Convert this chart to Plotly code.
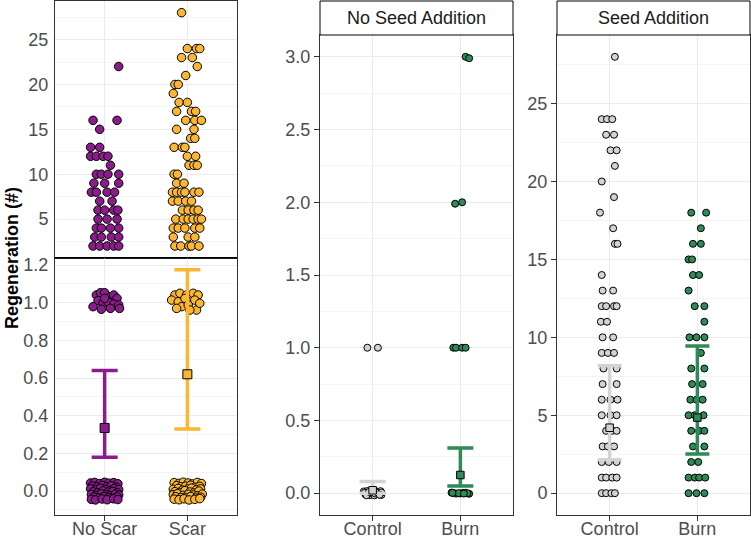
import numpy as np
import plotly.graph_objects as go

# ---- data -------------------------------------------------------------
scar_groups = ["No Scar", "Scar"]
fire_groups = ["Control", "Burn"]
panel_titles = ["No Seed Addition", "Seed Addition"]

# panel 1, upper part (counts > 1), values and jitter offsets
noscar_hi_y = [22, 16, 16, 15, 13, 13, 12, 12, 12, 12, 11, 10, 10, 10, 10, 9, 9, 9,
               8, 8, 8, 8, 7, 7, 6, 6, 6, 6, 5, 5, 5, 4, 4, 4, 4, 3, 3, 3, 3,
               2, 2, 2, 2, 2]
noscar_hi_dx = [0.17, -0.14, 0.15, -0.06, -0.17, -0.06, -0.17, -0.10, -0.02, 0.04, 0.07,
                -0.10, -0.04, 0.04, 0.17, -0.13, 0.00, 0.17, -0.16, -0.10, 0.03, 0.12,
                -0.06, 0.09, -0.08, 0.00, 0.11, 0.16, -0.08, 0.03, 0.15, -0.10, -0.04,
                0.07, 0.17, -0.12, -0.04, 0.08, 0.17, -0.14, -0.06, 0.03, 0.11, 0.17]
scar_hi_y = [28, 24, 24, 24, 23, 23, 22, 21, 20, 20, 19, 18, 18, 17, 17, 17, 16, 16, 16,
             15, 15, 14, 14, 13, 13, 13, 12, 12, 11, 11, 11, 10, 10, 9, 9,
             8, 8, 8, 8, 8, 8, 7, 7, 7, 7, 6, 6, 6, 6, 5, 5, 5, 5, 5, 5,
             4, 4, 4, 4, 4, 3, 3, 3, 2, 2, 2, 2, 2]
scar_hi_dx = [-0.07, 0.00, 0.11, 0.15, -0.07, 0.06, 0.12, -0.02, -0.15, -0.11, -0.17,
              -0.10, 0.00, -0.13, 0.05, 0.10, -0.02, 0.09, 0.17, -0.13, 0.08, 0.04, 0.09,
              -0.16, -0.06, -0.03, 0.00, 0.10, 0.02, 0.08, 0.12, -0.16, -0.12, -0.13, -0.04,
              -0.18, -0.13, -0.07, -0.03, 0.08, 0.14, -0.18, -0.11, -0.02, 0.05,
              -0.06, 0.01, 0.08, 0.13, -0.14, -0.05, 0.01, 0.07, 0.13, 0.17,
              -0.17, -0.11, -0.03, 0.09, 0.15, -0.17, 0.01, 0.09, -0.15, -0.08, 0.02, 0.05, 0.14]

# panel 1, lower part (presence 0/1, jittered)
noscar_lo_y = [1.041, 1.053, 1.053, 1.032, 1.041, 1.023, 1.011, 0.997, 1.005, 0.993, 0.988,
               0.979, 0.965, 0.970, 0.970, 1.023,
               0.043, 0.046, 0.040, 0.047, 0.042, 0.045, 0.039,
               0.027, 0.022, 0.030, 0.024, 0.028, 0.021,
               0.012, 0.006, 0.015, 0.009, 0.004, 0.013, 0.008,
               -0.004, -0.009, 0.001, -0.006, -0.002, -0.008,
               -0.018, -0.022, -0.015, -0.020, -0.024, -0.016, -0.021,
               -0.032, -0.036, -0.030, -0.034, -0.038, -0.031,
               -0.044, -0.047, -0.042, -0.046, -0.041, -0.045]
noscar_lo_dx = [-0.10, -0.05, 0.00, 0.07, 0.11, 0.15, -0.08, -0.02, 0.04, 0.11, 0.17,
                -0.14, -0.04, 0.07, 0.18, 0.00,
                -0.17, -0.12, -0.06, 0.00, 0.05, 0.11, 0.16,
                -0.15, -0.09, -0.03, 0.03, 0.08, 0.14,
                -0.17, -0.11, -0.05, 0.01, 0.07, 0.12, 0.17,
                -0.14, -0.08, -0.02, 0.04, 0.10, 0.15,
                -0.16, -0.10, -0.04, 0.02, 0.06, 0.13, 0.17,
                -0.13, -0.07, -0.01, 0.05, 0.09, 0.15,
                -0.16, -0.11, -0.03, 0.03, 0.11, 0.16]
scar_lo_y = [1.041, 1.050, 1.041, 1.050, 1.041, 1.014, 1.005, 1.023, 1.014, 0.979, 0.988,
             0.961, 0.970, 0.961, 0.997,
             0.045, 0.041, 0.047, 0.043, 0.038, 0.046, 0.040,
             0.029, 0.023, 0.026, 0.031, 0.020, 0.025,
             0.010, 0.014, 0.005, 0.011, 0.016, 0.007, 0.012,
             -0.003, -0.007, 0.002, -0.005, -0.010, 0.000,
             -0.019, -0.014, -0.023, -0.017, -0.021, -0.025, -0.016,
             -0.030, -0.035, -0.033, -0.029, -0.037, -0.032,
             -0.043, -0.046, -0.041, -0.047, -0.044, -0.040]
scar_lo_dx = [-0.15, -0.09, -0.01, 0.07, 0.13, -0.19, -0.11, -0.03, 0.09, -0.07, 0.01,
              0.11, -0.13, 0.03, 0.15,
              -0.16, -0.10, -0.05, 0.01, 0.06, 0.12, 0.17,
              -0.13, -0.08, -0.02, 0.04, 0.09, 0.15,
              -0.17, -0.11, -0.06, 0.00, 0.05, 0.11, 0.16,
              -0.15, -0.09, -0.03, 0.03, 0.08, 0.14,
              -0.17, -0.12, -0.05, 0.01, 0.07, 0.12, 0.18,
              -0.14, -0.08, -0.02, 0.04, 0.10, 0.16,
              -0.16, -0.10, -0.04, 0.02, 0.09, 0.15]
scar_mean = [0.335, 0.62]
scar_lower = [0.18, 0.33]
scar_upper = [0.64, 1.175]

# panel 2: no seed addition
nsa_ctrl_y = [1.0, 1.0, 0.012, -0.010, 0.015, -0.013, 0.008, -0.015, 0.011, -0.008, 0.014,
              -0.012, 0.003, -0.004, 0.006, -0.002, 0.001, 0.004, -0.014, 0.013, -0.011, 0.009]
nsa_ctrl_dx = [-0.06, 0.06, -0.10, -0.08, -0.06, -0.03, 0.00, 0.02, 0.05, 0.07, 0.09,
               0.10, -0.09, -0.05, -0.01, 0.03, 0.06, 0.10, -0.07, 0.00, 0.08, -0.04]
nsa_burn_y = [3.0, 2.99, 1.99, 2.0, 1.0, 1.0, 1.0, 1.0,
              0.004, -0.003, 0.002, -0.004, 0.001, -0.002, 0.003, 0.000, -0.001, 0.002, -0.003]
nsa_burn_dx = [0.06, 0.10, -0.06, 0.02, -0.08, -0.05, 0.02, 0.06,
               -0.10, -0.05, 0.03, 0.10, -0.08, 0.00, 0.06, -0.02, 0.08, -0.09, 0.04]
nsa_mean = [0.02, 0.125]
nsa_lower = [0.0, 0.05]
nsa_upper = [0.08, 0.31]

# panel 3: seed addition
sa_ctrl_y = [28, 24, 24, 24, 23, 23, 22, 22, 21, 20, 19, 18, 17, 16, 16, 14, 13, 13,
             12, 12, 12, 12, 11, 11, 10, 10, 9, 9, 9, 8, 8, 7, 7, 6, 6, 6, 5, 5, 5,
             4, 4, 4, 3, 3, 3, 2, 2, 2, 1, 1, 1, 1, 0, 0, 0, 0]
sa_ctrl_dx = [0.06, -0.09, -0.03, 0.03, -0.04, 0.05, 0.01, 0.08, 0.06, -0.09, 0.05, -0.11,
              0.04, 0.06, 0.09, -0.09, -0.08, 0.04, -0.09, -0.04, 0.05, 0.08, -0.10, -0.03,
              -0.08, 0.04, -0.09, -0.02, 0.05, -0.07, 0.08, -0.08, 0.08, -0.09, 0.01, 0.09,
              -0.09, 0.01, 0.08, -0.04, 0.03, 0.08, -0.08, -0.02, 0.05, -0.09, -0.01, 0.08,
              -0.09, -0.04, 0.03, 0.08, -0.09, -0.04, 0.02, 0.06]
sa_burn_y = [18, 18, 17, 16, 16, 15, 15, 14, 14, 13, 12, 12, 11, 10, 10, 10, 9, 8, 8,
             7, 7, 6, 6, 6, 5, 5, 5, 4, 4, 4, 3, 3, 2, 2, 1, 1, 1, 1, 0, 0, 0]
sa_burn_dx = [-0.07, 0.10, 0.04, -0.05, 0.04, -0.10, -0.06, -0.05, 0.02, -0.10, -0.03, 0.08,
              0.08, -0.09, -0.01, 0.08, 0.04, -0.07, 0.08, -0.06, 0.06, -0.08, -0.01, 0.06,
              -0.10, -0.03, 0.07, -0.07, 0.02, 0.08, -0.05, 0.08, -0.07, 0.01,
              -0.10, -0.03, 0.02, 0.09, -0.10, -0.01, 0.08]
sa_mean = [4.2, 4.85]
sa_lower = [2.15, 2.52]
sa_upper = [8.17, 9.45]

PURPLE = "#8B1C8B"
ORANGE = "#FBB632"
GREEN = "#2E8B57"
GREY = "#D3D3D3"
FONT = "Liberation Sans, Arial, sans-serif"

W, H = 751, 540


def px_x(a, b):
    return [a / W, b / W]


def px_y(top, bottom):
    return [1 - bottom / H, 1 - top / H]


fig = go.Figure()


def points(x0, dx, y, color, size, ax):
    fig.add_trace(go.Scatter(
        x=x0 + np.array(dx), y=y, mode="markers", xaxis="x" + ax, yaxis="y" + ax,
        marker=dict(size=size, color=color, line=dict(color="black", width=1)),
        hoverinfo="y", showlegend=False))


def errbar(xs, mean, lo, hi, colors, size, cap, ax):
    for x, m, l, h, c in zip(xs, mean, lo, hi, colors):
        fig.add_trace(go.Scatter(
            x=[x], y=[m], mode="markers", xaxis="x" + ax, yaxis="y" + ax,
            marker=dict(symbol="square", size=size, color=c, line=dict(color="black", width=1)),
            error_y=dict(type="data", symmetric=False, array=[h - m], arrayminus=[m - l],
                         color=c, thickness=3.5, width=cap),
            showlegend=False))


# panel 1 upper
points(1, noscar_hi_dx, noscar_hi_y, PURPLE, 8.5, "")
points(2, scar_hi_dx, scar_hi_y, ORANGE, 8.5, "")
# panel 1 lower
points(1, noscar_lo_dx, noscar_lo_y, PURPLE, 8.5, "2")
points(2, scar_lo_dx, scar_lo_y, ORANGE, 8.5, "2")
errbar([1, 2], scar_mean, scar_lower, scar_upper, [PURPLE, ORANGE], 9, 13, "2")
# panel 2
points(1, nsa_ctrl_dx, nsa_ctrl_y, GREY, 7, "3")
points(2, nsa_burn_dx, nsa_burn_y, GREEN, 7, "3")
errbar([1, 2], nsa_mean, nsa_lower, nsa_upper, [GREY, GREEN], 7.5, 13, "3")
# panel 3
points(1, sa_ctrl_dx, sa_ctrl_y, GREY, 7, "4")
points(2, sa_burn_dx, sa_burn_y, GREEN, 7, "4")
errbar([1, 2], sa_mean, sa_lower, sa_upper, [GREY, GREEN], 7.5, 12, "4")

tickfont = dict(family=FONT, size=18, color="#4D4D4D")
base = dict(showline=True, linecolor="#333333", linewidth=1, mirror=True, zeroline=False,
            showgrid=True, gridcolor="#EBEBEB", gridwidth=1.1, tickfont=tickfont,
            tickcolor="#333333", fixedrange=True)


def xax(dom, anchor, labels):
    d = dict(base, domain=dom, anchor=anchor, range=[0.4, 2.6], tickvals=[1, 2])
    if labels is None:
        d.update(showticklabels=False, ticks="")
    else:
        d.update(ticktext=labels, ticks="outside", ticklen=5, ticklabelstandoff=-8)
    return d


def yax(dom, anchor, rng, ticks, minor, fmt, marks=True):
    d = dict(base, domain=dom, anchor=anchor, range=rng, tickvals=ticks,
             ticktext=[fmt.format(t) for t in ticks],
             minor=dict(showgrid=True, gridcolor="#F4F4F4", gridwidth=1, dtick=minor, tick0=0))
    if marks:
        d.update(ticks="outside", ticklen=5)
    else:
        d.update(ticks="outside", ticklen=2, tickcolor="rgba(0,0,0,0)")
    return d


p1x = px_x(55, 237)
p2x = px_x(320, 513)
p3x = px_x(557, 750)
fig.update_layout(
    xaxis=xax(p1x, "y", None),
    yaxis=yax(px_y(1, 257.7), "x", [0.7, 29.3], [5, 10, 15, 20, 25], 2.5, "{:g}", False),
    xaxis2=xax(p1x, "y2", scar_groups),
    yaxis2=yax(px_y(257.7, 515), "x2", [-0.127, 1.239], [0, 0.2, 0.4, 0.6, 0.8, 1.0, 1.2],
               0.1, "{:.1f}", False),
    xaxis3=xax(p2x, "y3", fire_groups),
    yaxis3=yax(px_y(35, 515), "x3", [-0.15, 3.15], [0, 0.5, 1, 1.5, 2, 2.5, 3], 0.25, "{:.1f}"),
    xaxis4=xax(p3x, "y4", fire_groups),
    yaxis4=yax(px_y(35, 515), "x4", [-1.4, 29.4], [0, 5, 10, 15, 20, 25], 2.5, "{:g}"),
    width=W, height=H, margin=dict(l=0, r=0, t=0, b=0),
    paper_bgcolor="white", plot_bgcolor="white", template="none", showlegend=False,
)

# divider between the two halves of panel 1
fig.add_shape(type="line", xref="paper", yref="paper", x0=55 / W, x1=237 / W,
              y0=1 - 257.7 / H, y1=1 - 257.7 / H, line=dict(color="black", width=1.5))

# facet strips
for xd, title in zip([p2x, p3x], panel_titles):
    fig.add_shape(type="rect", xref="paper", yref="paper", x0=xd[0], x1=xd[1],
                  y0=1 - 35 / H, y1=1 - 1 / H, fillcolor="white",
                  line=dict(color="black", width=1))
    fig.add_annotation(text=title, xref="paper", yref="paper", x=(xd[0] + xd[1]) / 2,
                       y=1 - 18 / H, xanchor="center", yanchor="middle", showarrow=False,
                       font=dict(family=FONT, size=18, color="#1A1A1A"))

fig.add_annotation(text="<b>Regeneration (#)</b>", xref="paper", yref="paper", x=12 / W,
                   y=1 - 258 / H, xanchor="center", yanchor="middle", textangle=-90,
                   showarrow=False, font=dict(family=FONT, size=18, color="black"))

fig.write_html("out.html", config={"displayModeBar": False},
               post_script="document.body.style.margin='0px';")
